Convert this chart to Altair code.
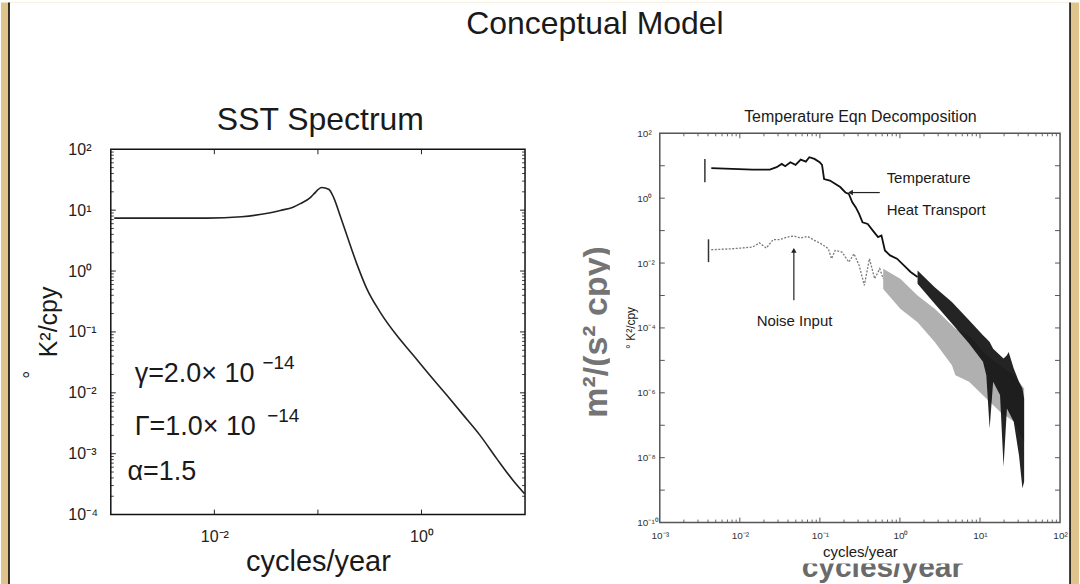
import altair as alt
import pandas as pd

# ---------------- values ----------------
# Left panel: "SST Spectrum" of the conceptual model (cycles/year -> °K²/cpy)
sst_freq = [0.00108, 0.00184, 0.00396, 0.0085, 0.0183, 0.0337, 0.0434, 0.0576,
            0.0676, 0.0844, 0.091, 0.109, 0.127, 0.142, 0.164, 0.191, 0.238,
            0.297, 0.400, 0.579, 0.838, 1.21, 1.76, 2.54, 3.68, 5.33, 7.71, 9.9]
sst_power = [7.4, 7.4, 7.4, 7.4, 7.8, 9.0, 9.9, 11.2, 12.8, 16.1, 18.3, 23.5,
             22.1, 16.1, 8.1, 3.8, 1.30, 0.51, 0.21, 0.087, 0.041, 0.0193,
             0.0091, 0.0043, 0.0020, 0.00083, 0.00036, 0.00022]

param_text = ["γ=2.0× 10", "Γ=1.0× 10", "α=1.5"]
param_freq = [0.0017, 0.0017, 0.00145]
param_power = [0.015, 0.002, 0.000366]
param_exp = ["−14", "−14"]
param_exp_freq = [0.0291, 0.0324]
param_exp_power = [0.0247, 0.0033]

left_x_labels = [1e-2, 1e0]
left_y_labels = [1e-4, 1e-3, 1e-2, 1e-1, 1e0, 1e1, 1e2]

# Right panel: "Temperature Eqn Decomposition"
temp_freq = [0.0044, 0.0080, 0.0144, 0.0237, 0.0288, 0.0334, 0.0369, 0.0428,
             0.0497, 0.0576, 0.0668, 0.0738, 0.0856, 0.0993, 0.1064, 0.1128,
             0.1334, 0.1548, 0.1795, 0.2084, 0.230, 0.254, 0.280, 0.309, 0.341,
             0.396, 0.459, 0.533, 0.588, 0.649, 0.753, 0.918, 1.12, 1.36, 1.66]
temp_power = [8.4, 8.0, 7.6, 7.6, 9.0, 11.4, 9.7, 12.8, 10.6, 15.5, 13.4, 18.3,
              16.2, 12.8, 10.6, 3.9, 3.5, 2.8, 2.2, 1.5, 1.36, 0.75, 0.53, 0.33,
              0.18, 0.16, 0.10, 0.063, 0.071, 0.0245, 0.0172, 0.0136, 0.0085,
              0.0053, 0.0037]
# dense high-frequency part of the temperature spectrum (upper / lower envelope)
temp_band_freq = [1.66, 2.72, 4.46, 7.31, 10.9, 12.0, 13.2, 14.6, 17.8, 19.7,
                  21.7, 22.8, 26.4, 30.7, 33.9, 35.6]
temp_band_hi = [5.9e-3, 1.8e-3, 6.3e-4, 1.72e-4, 5.9e-5, 4.7e-5, 3.7e-5, 2.3e-5,
                1.44e-5, 1.14e-5, 1.44e-5, 1.8e-5, 5.6e-6, 2.2e-6, 1.36e-6, 6.7e-7]
temp_band_lo = [2.3e-3, 5.6e-4, 1.36e-4, 3.3e-5, 9.0e-6, 3.5e-6, 8.0e-8, 2.2e-6,
                8.5e-7, 5.3e-9, 3.3e-7, 2.6e-7, 1.28e-7, 1.2e-8, 1.14e-9, 1.8e-9]

noise_freq = [0.0044, 0.0080, 0.0144, 0.0176, 0.0214, 0.0261, 0.0318, 0.0388,
              0.0473, 0.0576, 0.0702, 0.0856, 0.104, 0.127, 0.140, 0.155, 0.189,
              0.230, 0.267, 0.309, 0.359, 0.416, 0.483, 0.560, 0.618]
noise_power = [0.0257, 0.0276, 0.031, 0.042, 0.029, 0.053, 0.053, 0.063, 0.068,
               0.059, 0.066, 0.050, 0.039, 0.028, 0.0136, 0.0245, 0.0218, 0.0107,
               0.0194, 0.0085, 0.00206, 0.0136, 0.0033, 0.0067, 0.0033]
noise_band_freq = [0.618, 1.01, 1.66, 2.72, 4.46, 4.93, 7.31, 12.0, 17.8, 26.4, 35.6]
noise_band_hi = [6.7e-3, 3.3e-3, 1.0e-3, 3.9e-4, 1.2e-4, 9.5e-5, 5.9e-5, 1.44e-5,
                 7.1e-6, 3.5e-6, 1.36e-6]
noise_band_lo = [1.6e-3, 3.9e-4, 1.5e-4, 3.7e-5, 7.1e-6, 3.5e-6, 2.2e-6, 6.7e-7,
                 2.6e-7, 1.3e-7, 3.1e-8]

bar_freq = [0.00366, 0.00406]
bar_lo = [3.1, 0.0107]
bar_hi = [16.0, 0.054]

note_text = ["Temperature", "Heat Transport"]
note_freq = [0.682, 0.682]
note_power = [4.1, 0.43]
arrow_h_freq = [0.560, 0.2415]
arrow_h_power = [1.49, 1.49]
noise_label = ["Noise Input"]
noise_label_freq = [0.0482]
noise_label_power = [1.64e-4]
arrow_v_freq = [0.0473]
arrow_v_tail = [7.1e-4]
arrow_v_head = [0.0245]

right_x_labels = [1e-3, 1e-2, 1e-1, 1e0, 1e1, 1e2]
right_y_labels = [1e-10, 1e-8, 1e-6, 1e-4, 1e-2, 1e0, 1e2]

# ---------------- helpers ----------------
SANS = "Liberation Sans, Arial, sans-serif"
NARROW = "Liberation Sans Narrow, Arial Narrow, Liberation Sans, sans-serif"
W1, H1 = 415, 366
OY = 16            # the left plot starts 16 px lower than the right one
W2, H2 = 401, 390

E = "round(log(datum.value)/LN10)"
DIG = "'⁰¹²³⁴⁵⁶⁷⁸⁹'"
ONES = f"substring({DIG}, abs({E})%10, abs({E})%10+1)"
TENS = f"substring({DIG}, floor(abs({E})/10), floor(abs({E})/10)+1)"
LBL = f"'10' + ({E} < 0 ? '⁻' : '') + (abs({E}) >= 10 ? {TENS} : '') + {ONES}"

one = pd.DataFrame({"k": [0]})


def axis(values, orient, font, size, color, pad):
    kw = dict(values=values, labelExpr=LBL, title=None, grid=False, domain=False,
              ticks=False, tickSize=0, labelPadding=pad, labelFont=font,
              labelFontSize=size, labelColor=color, labelFlush=False,
              labelOverlap=False, labelBound=False, zindex=2)
    if orient == "y":
        kw.update(labelAlign="left", labelBaseline="middle")
    else:
        kw.update(labelAlign="center", labelBaseline="top")
    return alt.Axis(**kw)


def text(t, x, y, size, font=SANS, color="#1a1a1a", angle=0, weight="normal",
         align="center", baseline="alphabetic"):
    kw = dict(text=t, font=font, fontSize=size, color=color, align=align,
              baseline=baseline, fontWeight=weight)
    if angle:
        kw["angle"] = angle
    return alt.Chart(one).mark_text(**kw).encode(x=alt.value(x), y=alt.value(y))


def box(x, x2, y, y2, color):
    return alt.Chart(one).mark_rect(color=color).encode(
        x=alt.value(x), x2=alt.value(x2), y=alt.value(y), y2=alt.value(y2))


def frame(x0, y0, w, h, color):
    return alt.Chart(one).mark_rect(filled=False, stroke=color, strokeWidth=1.5).encode(
        x=alt.value(x0), x2=alt.value(x0 + w), y=alt.value(y0), y2=alt.value(y0 + h))


def ticks(vals, X, Y, y0, w, h, length, color, horizontal):
    df = pd.DataFrame({"t": vals})
    base = alt.Chart(df).mark_rule(color=color, strokeWidth=1)
    if horizontal:  # ticks on x axis (bottom & top)
        return [base.encode(x=X("t"), y=alt.value(y0 + h), y2=alt.value(y0 + h - length)),
                base.encode(x=X("t"), y=alt.value(y0), y2=alt.value(y0 + length))]
    return [base.encode(y=Y("t"), x=alt.value(0), x2=alt.value(length)),
            base.encode(y=Y("t"), x=alt.value(w), x2=alt.value(w - length))]


# ---------------- left panel ----------------
LXS = alt.Scale(type="log", domain=[1e-3, 1e1], nice=False)
LYS = alt.Scale(type="log", domain=[1e-4, 1e2], nice=False, range=[OY + H1, OY])
lxa = axis(left_x_labels, "x", SANS, 16, "#222", 14)
lya = axis(left_y_labels, "y", SANS, 16, "#222", 43)


def LX(f):
    return alt.X(f, type="quantitative", scale=LXS, axis=lxa)


def LY(f):
    return alt.Y(f, type="quantitative", scale=LYS, axis=lya)


sst_df = pd.DataFrame({"f": sst_freq, "p": sst_power})
sst_line = alt.Chart(sst_df).mark_line(color="#222", strokeWidth=1.6,
                                       interpolate="monotone").encode(
    x=LX("f"), y=LY("p"))

par_df = pd.DataFrame({"f": param_freq, "p": param_power, "t": param_text})
par = alt.Chart(par_df).mark_text(font=SANS, fontSize=27, color="#1a1a1a",
                                  align="left", baseline="alphabetic").encode(
    x=LX("f"), y=LY("p"), text="t:N")
exp_df = pd.DataFrame({"f": param_exp_freq, "p": param_exp_power, "t": param_exp})
exps = alt.Chart(exp_df).mark_text(font=SANS, fontSize=19, color="#1a1a1a",
                                   align="left", baseline="alphabetic").encode(
    x=LX("f"), y=LY("p"), text="t:N")

l_x_major = [1e-2, 1e-1, 1e0]
l_y_major = [1e-3, 1e-2, 1e-1, 1e0, 1e1]
l_y_minor = [m * 10.0 ** k for k in range(-4, 2) for m in range(2, 10)]

T = -131           # top of the page, relative to the panels' common origin
B = 453            # bottom of the page
left_layers = [
    box(-110, 970, T, B, "#e0c48e"),       # parchment edge of the slide
    box(-101, 961, T, B, "white"),
    alt.Chart(one).mark_rule(color="black", strokeWidth=1.5).encode(
        x=alt.value(-102), x2=alt.value(-102), y=alt.value(T), y2=alt.value(B)),
    alt.Chart(one).mark_rule(color="black", strokeWidth=1.5).encode(
        x=alt.value(961), x2=alt.value(961), y=alt.value(T), y2=alt.value(B)),
    text("Conceptual Model", 485, -99, 32),
    text("SST Spectrum", 210, -3, 32),
    text("K²/cpy", -54, 189, 25, angle=270),
    text("°", -73, 242, 20, angle=270),
    text("cycles/year", 208, 439, 29),
]
left_layers += ticks(l_x_major, LX, LY, OY, W1, H1, 5, "#222", True)
left_layers += ticks(l_y_major, LX, LY, OY, W1, H1, 5, "#222", False)
left_layers += ticks(l_y_minor, LX, LY, OY, W1, H1, 3, "#444", False)
left_layers += [sst_line, par, exps, frame(0, OY, W1, H1, "#111")]
left = alt.layer(*left_layers).properties(width=W1, height=OY + H1)

# ---------------- right panel ----------------
RXS = alt.Scale(type="log", domain=[1e-3, 1e2], nice=False)
RYS = alt.Scale(type="log", domain=[1e-10, 1e2], nice=False)
rxa = axis(right_x_labels, "x", NARROW, 10, "#333", 8)
rya = axis(right_y_labels, "y", NARROW, 10, "#333", 23)


def RX(f):
    return alt.X(f, type="quantitative", scale=RXS, axis=rxa)


def RY(f):
    return alt.Y(f, type="quantitative", scale=RYS, axis=rya)


nb_df = pd.DataFrame({"f": noise_band_freq, "hi": noise_band_hi, "lo": noise_band_lo})
noise_band = alt.Chart(nb_df).mark_area(color="#a2a2a2", opacity=0.85).encode(
    x=RX("f"), y=RY("hi"), y2="lo")
n_df = pd.DataFrame({"f": noise_freq, "p": noise_power})
noise_line = alt.Chart(n_df).mark_line(color="#7a7a7a", strokeWidth=1.3,
                                       strokeDash=[2, 1.5]).encode(x=RX("f"), y=RY("p"))
tb_df = pd.DataFrame({"f": temp_band_freq, "hi": temp_band_hi, "lo": temp_band_lo})
temp_band = alt.Chart(tb_df).mark_area(color="#111", opacity=0.92).encode(
    x=RX("f"), y=RY("hi"), y2="lo")
t_df = pd.DataFrame({"f": temp_freq, "p": temp_power})
temp_line = alt.Chart(t_df).mark_line(color="#111", strokeWidth=1.8).encode(
    x=RX("f"), y=RY("p"))
bar_df = pd.DataFrame({"f": bar_freq, "lo": bar_lo, "hi": bar_hi})
bars = alt.Chart(bar_df).mark_rule(color="#333", strokeWidth=1.5).encode(
    x=RX("f"), y=RY("lo"), y2="hi")

nt_df = pd.DataFrame({"f": note_freq, "p": note_power, "t": note_text})
notes = alt.Chart(nt_df).mark_text(font=NARROW, fontSize=15, color="#1a1a1a",
                                   align="left", baseline="middle").encode(
    x=RX("f"), y=RY("p"), text="t:N")
nl_df = pd.DataFrame({"f": noise_label_freq, "p": noise_label_power, "t": noise_label})
noise_note = alt.Chart(nl_df).mark_text(font=NARROW, fontSize=15, color="#1a1a1a",
                                        align="center", baseline="middle").encode(
    x=RX("f"), y=RY("p"), text="t:N")
ah_df = pd.DataFrame({"f": [arrow_h_freq[0]], "f2": [arrow_h_freq[1]],
                      "p": [arrow_h_power[0]]})
arrow_h = alt.Chart(ah_df).mark_rule(color="#222", strokeWidth=1.2).encode(
    x=RX("f"), x2="f2", y=RY("p"))
ah_head = alt.Chart(ah_df).mark_point(shape="triangle-left", filled=True, size=30,
                                      color="#222", opacity=1).encode(
    x=RX("f2"), y=RY("p"))
av_df = pd.DataFrame({"f": arrow_v_freq, "p": arrow_v_tail, "p2": arrow_v_head})
arrow_v = alt.Chart(av_df).mark_rule(color="#222", strokeWidth=1.2).encode(
    x=RX("f"), y=RY("p"), y2="p2")
av_head = alt.Chart(av_df).mark_point(shape="triangle-up", filled=True, size=30,
                                      color="#222", opacity=1).encode(
    x=RX("f"), y=RY("p2"))

r_x_major = [1e-2, 1e-1, 1e0, 1e1]
r_x_minor = [m * 10.0 ** k for k in range(-3, 2) for m in range(2, 10)]
r_y_major = [10.0 ** k for k in range(-9, 2)]

right_layers = [
    # text of the slide that lies behind the pasted figure
    text("m²/(s² cpy)", -53, 199, 34, font=NARROW, color="#747474", angle=270,
         weight="bold"),
    text("cycles/year", 223, 445, 30, color="#6a6a6a", weight="bold"),
    box(-50, -28, 110, 290, "white"),
    box(130, 330, 412, 431, "white"),
    noise_band, noise_line, temp_band, temp_line, bars,
]
right_layers += ticks(r_x_major, RX, RY, 0, W2, H2, 5, "#555", True)
right_layers += ticks(r_x_minor, RX, RY, 0, W2, H2, 3, "#666", True)
right_layers += ticks(r_y_major, RX, RY, 0, W2, H2, 5, "#555", False)
right_layers += [
    notes, noise_note, arrow_h, ah_head, arrow_v, av_head,
    text("Temperature Eqn Decomposition", 201, -11, 16, font=NARROW),
    text("° K²/cpy", -25, 195, 12, font=NARROW, angle=270),
    text("cycles/year", 201, 424, 15, font=NARROW),
    frame(0, 0, W2, H2, "#555"),
]
right = alt.layer(*right_layers).properties(width=W2, height=H2)

chart = alt.hconcat(left, right, spacing=135, bounds="flush").properties(
    padding=0, background="white"
).configure_view(stroke="transparent")

chart.save("out.html", embed_options={"renderer": "svg", "actions": False})
